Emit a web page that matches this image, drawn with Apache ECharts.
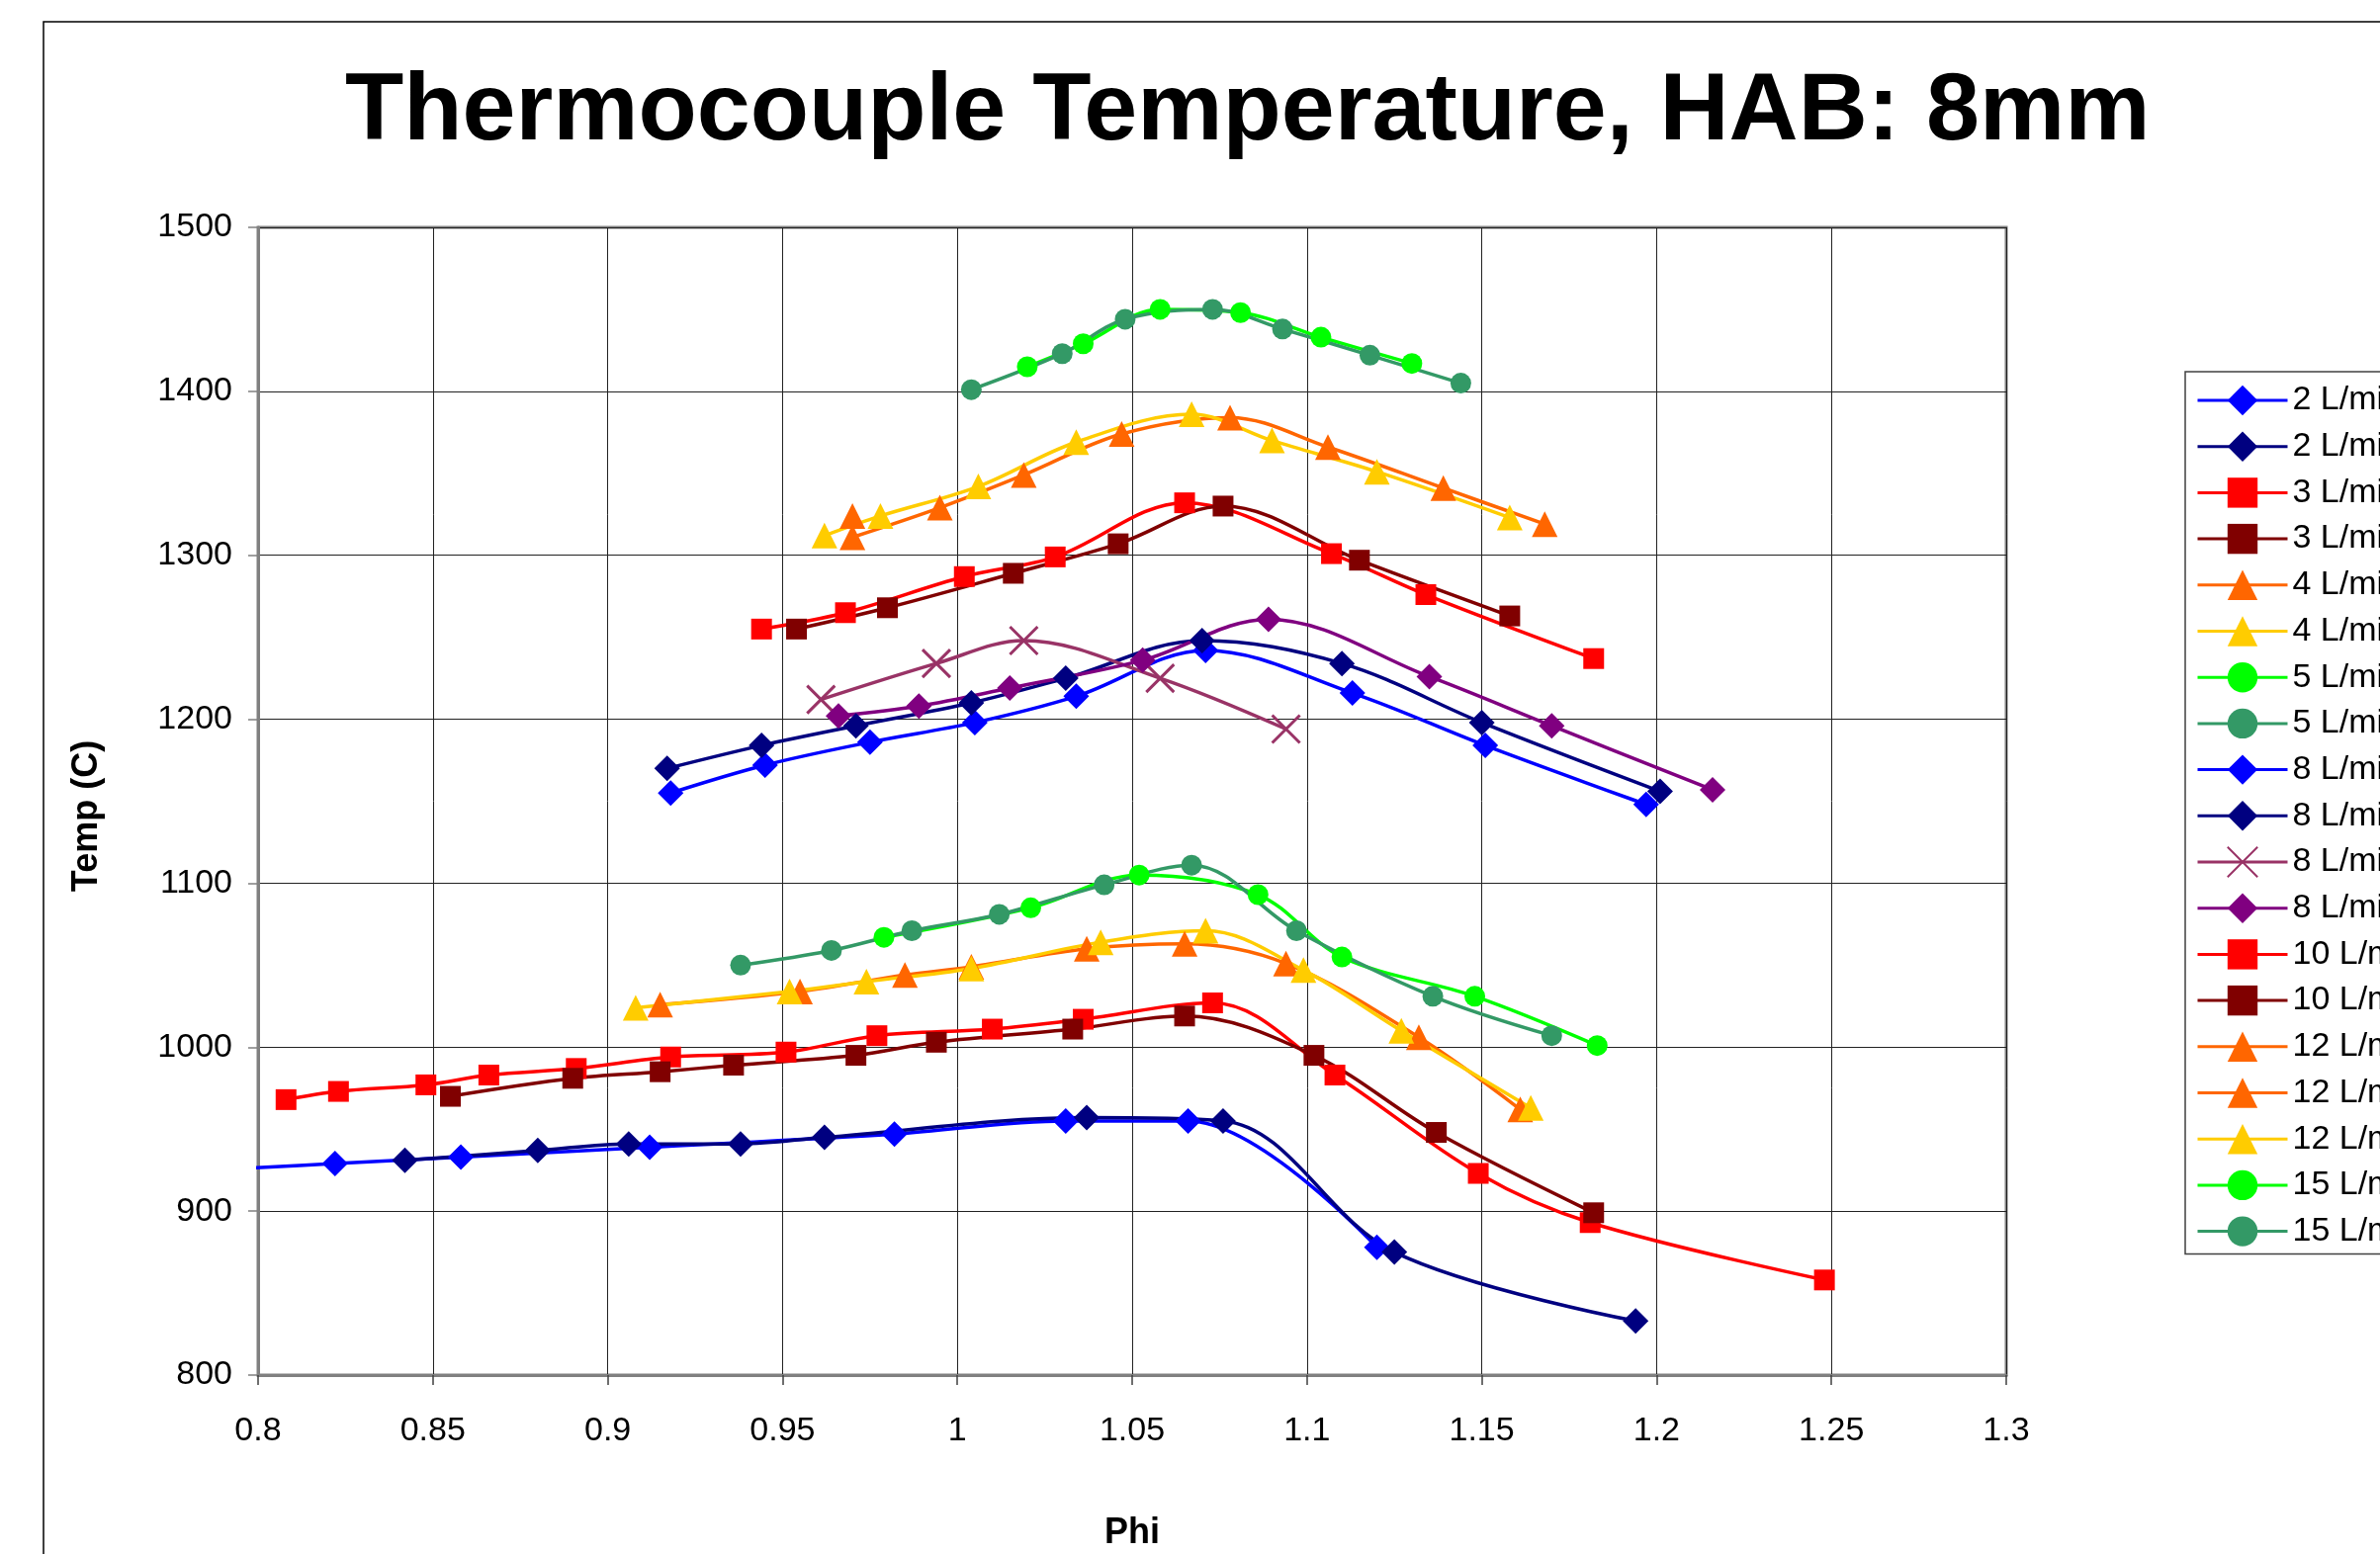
<!DOCTYPE html>
<html>
<head>
<meta charset="utf-8">
<title>Thermocouple Temperature, HAB: 8mm</title>
<script src="https://cdn.jsdelivr.net/npm/echarts@6.0.0/dist/echarts.min.js"></script>
<style>
html, body { margin: 0; padding: 0; background: #fff; }
#chart { width: 2407px; height: 1572px; }
</style>
</head>
<body>
<div id="chart"></div>
<script>
// [phi, temp] pairs, one array per legend entry
const flow2a = [[0.796, 926], [0.822, 929], [0.858, 933], [0.912, 939], [0.982, 947], [1.031, 955], [1.066, 955], [1.120, 878]]
const flow2b = [[0.842, 931], [0.880, 937], [0.906, 941], [0.938, 941], [0.962, 945], [1.037, 957], [1.076, 955], [1.125, 875], [1.194, 833]]
const flow3a = [[0.808, 968], [0.823, 973], [0.848, 977], [0.866, 983], [0.891, 987], [0.918, 994], [0.951, 997], [0.977, 1007], [1.010, 1011], [1.036, 1017], [1.073, 1027], [1.108, 983], [1.149, 923], [1.181, 893], [1.248, 858]]
const flow3b = [[0.855, 970], [0.890, 981], [0.915, 985], [0.936, 989], [0.971, 995], [0.994, 1003], [1.033, 1011], [1.065, 1019], [1.102, 995], [1.137, 948], [1.182, 899]]
const flow4a = [[0.915, 1026], [0.955, 1034], [0.985, 1044], [1.004, 1049], [1.037, 1060], [1.065, 1063], [1.094, 1051], [1.132, 1006], [1.161, 962]]
const flow4b = [[0.908, 1024], [0.952, 1034], [0.974, 1040], [1.004, 1048], [1.041, 1064], [1.071, 1071], [1.099, 1047], [1.127, 1010], [1.164, 963]]
const flow5a = [[0.979, 1067], [1.021, 1085], [1.052, 1105], [1.086, 1093], [1.110, 1055], [1.148, 1031], [1.183, 1001]]
const flow5b = [[0.938, 1050], [0.964, 1059], [0.987, 1071], [1.012, 1081], [1.042, 1099], [1.067, 1111], [1.097, 1071], [1.136, 1031], [1.170, 1007]]
const flow8a = [[0.918, 1155], [0.945, 1172], [0.975, 1186], [1.005, 1198], [1.034, 1214], [1.071, 1242], [1.113, 1216], [1.151, 1184], [1.197, 1148]]
const flow8b = [[0.917, 1170], [0.944, 1184], [0.971, 1196], [1.004, 1210], [1.031, 1225], [1.070, 1248], [1.110, 1234], [1.150, 1198], [1.201, 1156]]
const flow8c = [[0.961, 1212], [0.994, 1234], [1.019, 1248], [1.058, 1225], [1.094, 1194]]
const flow8d = [[0.966, 1202], [0.989, 1208], [1.015, 1219], [1.053, 1236], [1.089, 1261], [1.135, 1226], [1.170, 1196], [1.216, 1157]]
const flow10a = [[0.944, 1255], [0.968, 1265], [1.002, 1287], [1.028, 1299], [1.065, 1332], [1.107, 1301], [1.134, 1276], [1.182, 1237]]
const flow10b = [[0.954, 1255], [0.980, 1268], [1.016, 1289], [1.046, 1307], [1.076, 1330], [1.115, 1297], [1.158, 1263]]
const flow12a = [[0.970, 1311], [0.995, 1329], [1.019, 1349], [1.047, 1374], [1.078, 1384], [1.106, 1366], [1.139, 1341], [1.168, 1319]]
const flow12b = [[0.970, 1324]]
const flow12c = [[0.962, 1312], [0.978, 1324], [1.006, 1342], [1.034, 1369], [1.067, 1386], [1.090, 1370], [1.120, 1351], [1.158, 1323]]
const flow15a = [[1.020, 1415], [1.036, 1429], [1.058, 1450], [1.081, 1448], [1.104, 1433], [1.130, 1417]]
const flow15b = [[1.004, 1401], [1.030, 1423], [1.048, 1444], [1.073, 1450], [1.093, 1438], [1.118, 1422], [1.144, 1405]]

const seriesNames = ['2 L/min', '2 L/min', '3 L/min', '3 L/min', '4 L/min', '4 L/min', '5 L/min', '5 L/min',
  '8 L/min', '8 L/min', '8 L/min', '8 L/min', '10 L/min', '10 L/min', '12 L/min', '12 L/min', '12 L/min',
  '15 L/min', '15 L/min']
const seriesData = [flow2a, flow2b, flow3a, flow3b, flow4a, flow4b, flow5a, flow5b,
  flow8a, flow8b, flow8c, flow8d, flow10a, flow10b, flow12a, flow12b, flow12c, flow15a, flow15b]

const xTicks = { min: 0.8, max: 1.3, step: 0.05 }
const yTicks = { min: 800, max: 1500, step: 100 }

// looks (colour + marker) per series, same order as above
const looks = [
  ['#0000FF', 'diamond'], ['#000080', 'diamond'], ['#FF0000', 'rect'], ['#800000', 'rect'],
  ['#FF6600', 'triangle'], ['#FFCC00', 'triangle'], ['#00FF00', 'circle'], ['#339966', 'circle'],
  ['#0000FF', 'diamond'], ['#000080', 'diamond'], ['#993366', 'x'], ['#800080', 'diamond'],
  ['#FF0000', 'rect'], ['#800000', 'rect'], ['#FF6600', 'triangle'], ['#FF6600', 'triangle'],
  ['#FFCC00', 'triangle'], ['#00FF00', 'circle'], ['#339966', 'circle']
]
const markSize = { diamond: 26, rect: 21, triangle: 26, circle: 21, x: 28 }
const xMark = 'path://M0,0L10,10M10,0L0,10'
const font = "'Liberation Sans', Arial, sans-serif"

let myChart = echarts.init(document.getElementById('chart'))
myChart.setOption({
  animation: false,
  backgroundColor: '#fff',
  title: {
    text: 'Thermocouple Temperature, HAB: 8mm',
    left: 349,
    top: 66,
    padding: 0,
    textStyle: { fontFamily: font, fontSize: 97, fontWeight: 'bold', color: '#000' }
  },
  graphic: [
    {
      type: 'rect',
      shape: { x: 44, y: 22, width: 3000, height: 3000 },
      style: { fill: 'none', stroke: '#000', lineWidth: 1.5 },
      silent: true,
      z: -10
    }
  ],
  legend: {
    orient: 'vertical',
    left: 2210,
    top: 376,
    padding: [12, 10, 6, 11],
    itemWidth: 91,
    itemHeight: 38,
    itemGap: 12.7,
    backgroundColor: '#fff',
    borderColor: '#404040',
    borderWidth: 1.5,
    selectedMode: false,
    lineStyle: { width: 3 },
    formatter: n => n.split('#')[0],
    textStyle: { fontFamily: font, fontSize: 34, color: '#000', lineHeight: 34 },
    data: seriesNames.map((n, i) => n + '#' + i)
  },
  grid: {
    left: 261, top: 230, width: 1768, height: 1161,
    outerBoundsMode: 'none',
    show: true,
    borderColor: '#808080',
    borderWidth: 3
  },
  xAxis: {
    type: 'value',
    min: xTicks.min, max: xTicks.max, interval: xTicks.step,
    name: 'Phi',
    nameLocation: 'middle',
    nameGap: 142,
    nameTextStyle: { fontFamily: font, fontSize: 36, fontWeight: 'bold', color: '#000' },
    axisLine: { onZero: false, lineStyle: { color: '#808080', width: 3 } },
    axisTick: { length: 10, lineStyle: { color: '#404040', width: 1.5 } },
    axisLabel: { margin: 40, fontFamily: font, fontSize: 34, color: '#000' },
    splitLine: { show: true, lineStyle: { color: '#222', width: 1 } }
  },
  yAxis: {
    type: 'value',
    min: yTicks.min, max: yTicks.max, interval: yTicks.step,
    name: 'Temp (C)',
    nameLocation: 'middle',
    nameGap: 155,
    nameTextStyle: { fontFamily: font, fontSize: 36, fontWeight: 'bold', color: '#000', padding: [0, 30, 0, 0] },
    axisLine: { show: true, lineStyle: { color: '#808080', width: 3 } },
    axisTick: { show: true, length: 10, lineStyle: { color: '#808080', width: 1.5 } },
    axisLabel: { margin: 26, fontFamily: font, fontSize: 34, color: '#000', formatter: v => String(v) },
    splitLine: { show: true, lineStyle: { color: '#222', width: 1 } }
  },
  series: seriesData.map((pts, i) => {
    const color = looks[i][0]
    const mark = looks[i][1]
    const isX = mark === 'x'
    return {
      name: seriesNames[i] + '#' + i,
      type: 'line',
      smooth: 0.35,
      clip: false,
      symbol: isX ? xMark : mark,
      symbolSize: markSize[mark],
      showAllSymbol: true,
      data: pts.map(p => (p[0] < xTicks.min ? { value: p, symbol: 'none' } : p)),
      lineStyle: { color: color, width: 3.5 },
      itemStyle: isX
        ? { color: 'rgba(0,0,0,0)', borderColor: color, borderWidth: 3 }
        : { color: color, borderWidth: 0 },
      emphasis: { disabled: true }
    }
  })
})
</script>
</body>
</html>
